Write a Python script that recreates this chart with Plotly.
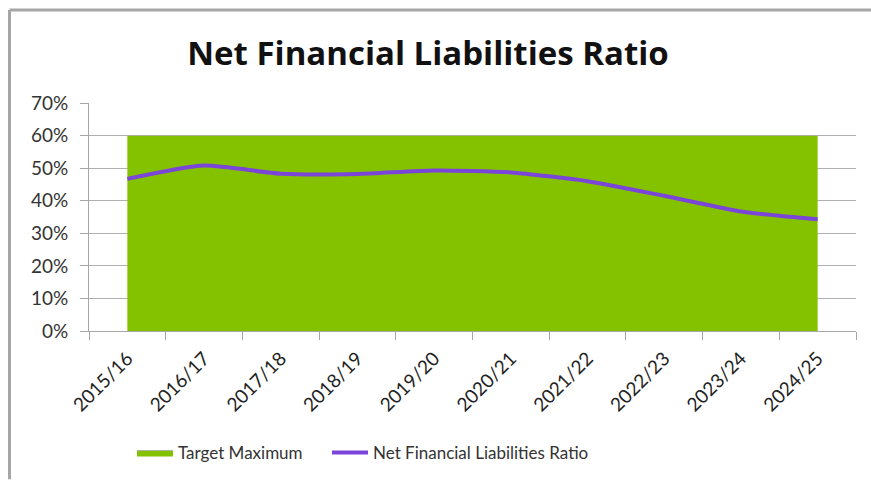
import plotly.graph_objects as go

years = ["2015/16", "2016/17", "2017/18", "2018/19", "2019/20",
         "2020/21", "2021/22", "2022/23", "2023/24", "2024/25"]
target_max = [0.60] * 10
nfl_ratio = [0.467, 0.508, 0.483, 0.482, 0.493, 0.487, 0.460, 0.415, 0.367, 0.343]
y_ticks = [0, 0.1, 0.2, 0.3, 0.4, 0.5, 0.6, 0.7]
y_tick_text = ["0%", "10%", "20%", "30%", "40%", "50%", "60%", "70%"]

W, H = 871, 481
ML, MR, MT, MB = 89, 15, 103, 149
pw, ph = W - ML - MR, H - MT - MB

font = "Lato, Open Sans, sans-serif"

fig = go.Figure()
fig.add_trace(go.Scatter(
    x=years, y=target_max, name="Target Maximum", mode="lines",
    fill="tozeroy", fillcolor="#84c200",
    line=dict(color="#a9b39a", width=1), legend="legend",
))
fig.add_trace(go.Scatter(
    x=years, y=nfl_ratio, name="Net Financial Liabilities Ratio", mode="lines",
    line=dict(color="#7a45d8", width=4, shape="spline", smoothing=0.6),
    legend="legend2",
))

# outer frame: left and top edges
fx0 = (9.5 - ML) / pw
fy1 = (H - MB - 9.5) / ph
fig.add_shape(type="line", xref="paper", yref="paper",
              x0=fx0, x1=fx0, y0=-MB / ph, y1=fy1,
              line=dict(color="#a6a6a6", width=3))
fig.add_shape(type="line", xref="paper", yref="paper",
              x0=fx0, x1=1 + (MR + 5) / pw, y0=fy1, y1=fy1,
              line=dict(color="#a6a6a6", width=3))

legend_y = -(453 - (H - MB)) / ph
legend_common = dict(orientation="h", xanchor="left", y=legend_y, yanchor="middle",
                     font=dict(family=font, size=17, color="#333333"),
                     itemwidth=36, bgcolor="rgba(0,0,0,0)")

fig.update_layout(
    width=W, height=H,
    margin=dict(l=ML, r=MR, t=MT, b=MB),
    paper_bgcolor="white", plot_bgcolor="white",
    title=dict(text="<b>Net Financial Liabilities Ratio</b>",
               x=428 / W, xanchor="center", y=1 - 53 / H, yanchor="middle",
               font=dict(family="Open Sans, sans-serif", size=33, color="#111111")),
    font=dict(family=font, size=16, color="#333333"),
    showlegend=True,
    legend=dict(x=(132 - ML) / pw, **legend_common),
    legend2=dict(x=(327 - ML) / pw, **legend_common),
    xaxis=dict(
        type="category", range=[-0.5, 9.5], tickson="boundaries",
        showgrid=False, ticks="outside", ticklen=8, tickcolor="#a6a6a6",
        showline=True, linecolor="#a6a6a6", linewidth=1,
        tickangle=-45, ticklabelstandoff=8,
        tickfont=dict(family=font, size=19, color="#222222"),
    ),
    yaxis=dict(
        range=[0, 0.7], tickvals=y_ticks, ticktext=y_tick_text,
        showgrid=True, gridcolor="#b0b0b0", gridwidth=1,
        ticks="outside", ticklen=8, tickcolor="#a6a6a6",
        showline=True, linecolor="#a6a6a6", linewidth=1,
        ticklabelstandoff=8,
        tickfont=dict(family=font, size=19, color="#333333"),
        zeroline=False,
    ),
)

fig.write_html("out.html")
